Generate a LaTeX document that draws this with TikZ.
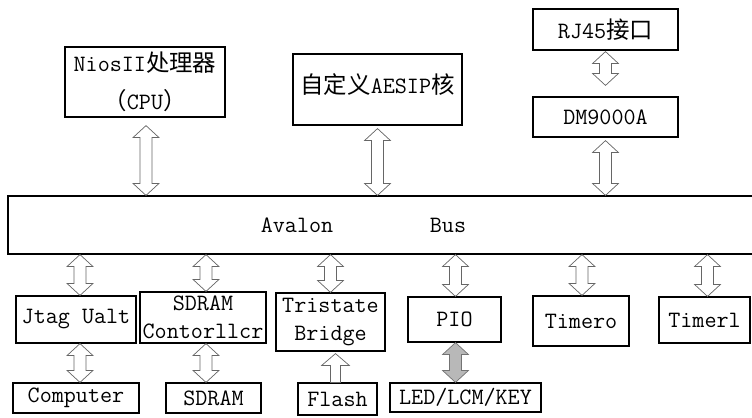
\documentclass[tikz,border=0pt]{standalone}
\usepackage{fontspec}
\newfontfamily\cjk{Noto Sans CJK SC}
\usetikzlibrary{calc}
\newcommand{\pxu}{0.03cm}
\tikzset{
    hollow/.style={draw=black!60, fill=white, line width=0.6pt},
    solidarrow/.style={draw=black!55, fill=black!28, line width=0.6pt}
}
% vertical arrow with two heads, top point to bottom point
\newcommand{\dblarrow}[3][]{%
    \draw[hollow,#1] let \p1=(#2), \p2=(#3), \n1={\y1-\y2-20.49pt} in
        (\x1,\y1) -- ++(13,12) -- ++(-7,0) -- ++(0pt,-\n1) -- ++(7,0) -- ++(-13,12)
        -- ++(-13,-12) -- ++(7,0) -- ++(0pt,\n1) -- ++(-7,0) -- cycle;
}
% vertical arrow with one head, pointing up
\newcommand{\uparrowbox}[3][]{%
    \draw[hollow,#1] let \p1=(#2), \p2=(#3), \n1={\y1-\y2-10.24pt} in
        (\x1,\y1) -- ++(14,12) -- ++(-9,0) -- ++(0pt,-\n1) -- ++(-10,0)
        -- ++(0pt,\n1) -- ++(-9,0) -- cycle;
}
\begin{document}
\begin{tikzpicture}[
        x=\pxu, y=-\pxu,
        box/.style={draw, line width=1pt, inner sep=0pt, align=center,
            font=\fontsize{20}{24}\selectfont\ttfamily},
        txt/.style={inner sep=0pt, font=\fontsize{20}{24}\selectfont\ttfamily}
    ]
        \useasboundingbox (0,0) rectangle (752,418);
        \clip (0,0) rectangle (752,418);

        % top row
        \node[box, minimum width=160*\pxu, minimum height=70*\pxu] (cpu) at (145,82)
            {NiosII{\cjk 处理器}\\[8pt]{\cjk （}CPU{\cjk ）}};
        \node[box, minimum width=169*\pxu, minimum height=71*\pxu] (aes) at (377.5,89.5)
            {\raisebox{10pt}{{\cjk 自定义}AESIP{\cjk 核}}};
        \node[box, minimum width=145*\pxu, minimum height=41*\pxu] (rj) at (605.5,29.5) {RJ45{\cjk 接口}};
        \node[box, minimum width=145*\pxu, minimum height=40*\pxu] (dm) at (605.5,117) {DM9000A};

        % bus
        \node[box, minimum width=780*\pxu, minimum height=58*\pxu] (bus) at (398,225) {};
        \node[txt] (avalon) at (297,225) {Avalon};
        \node[txt] (buslbl) at (448,225) {Bus};

        % peripherals
        \node[box, minimum width=120*\pxu, minimum height=47*\pxu] (jtag) at (76,319.5) {Jtag Ualt};
        \node[box, minimum width=126*\pxu, minimum height=51*\pxu] (sdctl) at (203,317.5) {SDRAM\\Contorllcr};
        \node[box, minimum width=109*\pxu, minimum height=58*\pxu] (tri) at (330.5,322) {Tristate\\Bridge};
        \node[box, minimum width=93*\pxu, minimum height=45*\pxu] (pio) at (454.5,319.5) {PIO};
        \node[box, minimum width=96*\pxu, minimum height=50*\pxu] (tzero) at (581,321) {Timero};
        \node[box, minimum width=91*\pxu, minimum height=46*\pxu] (tone) at (704.5,320) {Timerl};

        % devices
        \node[box, minimum width=126*\pxu, minimum height=30*\pxu] (comp) at (76,398) {Computer};
        \node[box, minimum width=95*\pxu, minimum height=30*\pxu] (sdram) at (213.5,398) {SDRAM};
        \node[box, minimum width=79*\pxu, minimum height=32*\pxu] (flash) at (337.5,399) {Flash};
        \node[box, minimum width=151*\pxu, minimum height=29*\pxu] (led) at (465.5,397.5) {LED/LCM/KEY};

        % connections
        \dblarrow{$(cpu.south)+(1,8)$}{cpu.south |- bus.north}
        \dblarrow{$(aes.south)+(0,3)$}{aes.south |- bus.north}
        \dblarrow{$(dm.south)+(0,3)$}{dm.south |- bus.north}
        \dblarrow{$(rj.south)+(0,1)$}{$(dm.north)+(0,-11)$}

        \dblarrow{$(jtag.north |- bus.south)+(4,0)$}{jtag.north}
        \dblarrow{$(sdctl.north |- bus.south)+(3,0)$}{sdctl.north}
        \dblarrow{tri.north |- bus.south}{tri.north}
        \dblarrow{$(pio.north |- bus.south)+(1,0)$}{pio.north}
        \dblarrow{$(tzero.north |- bus.south)+(1,0)$}{tzero.north}
        \dblarrow{$(tone.north |- bus.south)+(3,0)$}{tone.north}

        \dblarrow{$(jtag.south)+(4,0)$}{jtag.south |- comp.north}
        \dblarrow{$(sdctl.south)+(3,0)$}{sdctl.south |- sdram.north}
        \uparrowbox{$(flash.north |- tri.south)+(-2,2)$}{flash.north}
        \dblarrow[solidarrow]{$(pio.south)+(1,0)$}{pio.south |- led.north}
    \end{tikzpicture}
\end{document}
